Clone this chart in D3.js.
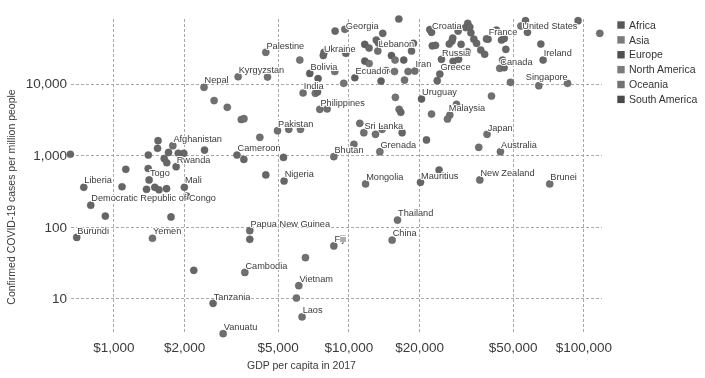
<!DOCTYPE html>
<html><head><meta charset="utf-8">
<script src="https://cdn.jsdelivr.net/npm/d3@7"></script>
<style>
body{margin:0;background:#fff}
svg{display:block;font-family:"Liberation Sans",Arial,sans-serif;filter:grayscale(1)}
</style>
</head><body>
<svg id="chart" width="705" height="378"></svg>
<script>
// ---------- data ----------
const names = [
 "Nepal","Afghanistan","Rwanda","Togo","Liberia","Mali","Democratic Republic of Congo","Burundi","Yemen","Tanzania",
 "Vanuatu","Kyrgyzstan","Palestine","Cameroon","Nigeria","Pakistan","Bolivia","India","Philippines","Ukraine",
 "Georgia","Ecuador","Lebanon","Iran","Uruguay","Sri Lanka","Bhutan","Grenada","Mongolia","Mauritius",
 "Croatia","Russia","Greece","France","United States","Ireland","Canada","Singapore","Malaysia","Japan",
 "Australia","New Zealand","Brunei","Thailand","China","Papua New Guinea","Fiji","Cambodia","Vietnam","Laos"
];
const continents = [
 "AS","AS","AF","AF","AF","AF","AF","AF","AS","AF",
 "OC","AS","AS","AF","AF","AS","SA","AS","AS","EU",
 "AS","SA","AS","AS","SA","AS","AS","NA","AS","AF",
 "EU","EU","EU","EU","NA","EU","NA","AS","AS","AS",
 "OC","OC","AS","AS","AS","OC","OC","AS","AS","AS",
 // unlabeled countries
 "AF","AF","AF","AF","AF","AF","AF","AF","AF","AF",
 "AF","AF","AF","AF","AF","AF","AF","AF","AF","AF",
 "AF","AS","AS","AS","AS","AS","AF","AF","AF","AS",
 "NA","AS","NA","SA","NA","NA","AF","AS","NA","EU",
 "EU","EU","EU","EU","SA","EU","EU","EU","SA","NA",
 "SA","EU","EU","SA","NA","SA","NA","NA","AS","AS",
 "NA","AS","AF","AS","AF","AS","AS","NA","AF","AS",
 "AF","AS","AS","AS","AS","AS","AS","AS","EU","EU",
 "EU","EU","EU","EU","EU","EU","EU","EU","EU","EU",
 "EU","EU","EU","EU","EU","EU","EU","EU","EU","EU",
 "EU","EU","EU","EU","EU","EU","EU","EU","EU","EU",
 "AS","AS","AS"
];
// GDP per capita in 2017 (int-$)
const gdp = [
 2430,1790,1849,1406,748,2004,801,698,1466,2656,
 2931,3395,4452,3357,5325,4993,6850,6415,7556,7820,
 9660,10650,13340,19170,20470,11630,8670,13610,11830,20270,
 22580,24890,24490,39300,54200,67400,44060,85600,27010,38900,
 44360,36240,71900,16180,15350,3805,8670,3625,6150,6350,
 656,1549,1541,1408,1716,1645,1687,1888,1993,2442,
 1129,1419,1088,1383,1500,1563,1683,924,1758,2052,
 2198,2683,3052,3501,3594,4198,3590,4452,5294,5575,
 6253,4527,6211,7430,8750,7230,7390,8120,9550,8780,
 7880,9750,16390,14000,11740,12250,13140,13430,15250,15800,
 17200,18560,18920,11740,12250,13770,14490,15710,17330,17950,
 15850,16440,16710,22580,21490,11180,13040,13910,16930,10550,
 24320,28840,26400,40640,35870,48950,64600,117450,94940,56700,
 57800,65900,45300,46000,46770,44830,46060,42660,38700,22200,
 31500,32200,32860,33200,34180,35100,36580,38000,29300,27800,
 27600,26870,30170,22750,23480,27900,29440,32060,23880,3805,
 6565,6010
];
// Confirmed COVID-19 cases per million people
const cases = [
 8890,1356,690,651,356,356,200,71,69,8.5,
 3.2,12470,27400,1006,436,2198,13900,7400,4378,24700,
 57400,12080,28560,15000,6090,2060,953,1118,396,418,
 52100,21830,13600,41700,63800,21340,16370,10100,3640,1957,
 1118,451,396,124,65,88,54,23,15,5.5,
 1030,1595,1247,1006,1091,899,784,1064,1064,1180,
 635,451,362,334,356,329,340,141,137,269,
 24.6,5805,4667,3152,3234,1778,871,529,929,2298,
 2298,12350,21340,11770,14760,7330,7640,4422,10100,54300,
 27400,26500,80000,50400,35400,31400,40700,36900,24700,21340,
 21340,28560,36600,20660,19100,10870,15250,14760,11220,14760,
 6430,4378,3970,3755,1632,2784,1958,2298,2060,1421,
 621,5140,3204,6710,1288,10430,9360,50400,75700,75700,
 52100,35700,21340,16680,30130,40700,42760,56100,42070,57000,
 60800,69600,61800,51400,41800,36560,29500,25700,54300,43400,
 39400,35700,35400,33800,34300,20470,21830,27900,10980,66.8,
 37,10.1
];
const xTicks = [1000,2000,5000,10000,20000,50000,100000];
const xTickLabels = ["$1,000","$2,000","$5,000","$10,000","$20,000","$50,000","$100,000"];
const yTicks = [10,100,1000,10000];
const yTickLabels = ["10","100","1,000","10,000"];
const legendCodes = ["AF","AS","EU","NA","OC","SA"];
const legendNames = ["Africa","Asia","Europe","North America","Oceania","South America"];
const xTitle = "GDP per capita in 2017";
const yTitle = "Confirmed COVID-19 cases per million people";

// ---------- styling ----------
const colors = {AF:"#666666",AS:"#707070",EU:"#676767",NA:"#747474",OC:"#6e6e6e",SA:"#5e5e5e"};
const legendColors = {AF:"#585858",AS:"#7a7a7a",EU:"#505050",NA:"#7c7c7c",OC:"#727272",SA:"#4a4a4a"};
const labelDefault = [0.6,-7];
const labelOffsets = {"Togo":[1.7,4.5],"Georgia":[1,-3.6],"United States":[1.4,-0.3],"Singapore":[-41.7,-6.6],"Malaysia":[-1,-7]};

const svg = d3.select("#chart");
const x = d3.scaleLog().domain([660,120000]).range([71,602]);
const y = d3.scaleLog().domain([3.17,80000]).range([334,19]);

// grid
const grid = svg.append("g").attr("stroke","#a8a8a8").attr("stroke-width",1).attr("stroke-dasharray","3,2");
grid.selectAll("line.v").data(xTicks).join("line")
  .attr("x1",d=>Math.round(x(d))+0.5).attr("x2",d=>Math.round(x(d))+0.5).attr("y1",19).attr("y2",334);
grid.selectAll("line.h").data(yTicks).join("line")
  .attr("y1",d=>Math.round(y(d))+0.5).attr("y2",d=>Math.round(y(d))+0.5).attr("x1",71).attr("x2",602);

// axes
const xAxis = d3.axisBottom(x).tickValues(xTicks).tickFormat((d,i)=>xTickLabels[i]).tickSize(0).tickPadding(0);
const gx = svg.append("g").attr("transform","translate(0,342)").call(xAxis);
gx.select(".domain").remove();
gx.selectAll("text").attr("font-size",13.5).attr("fill","#3a3a3a").attr("dy","0.71em")
  .style("font-family","'Liberation Sans',Arial,sans-serif");
const yAxis = d3.axisLeft(y).tickValues(yTicks).tickFormat((d,i)=>yTickLabels[i]).tickSize(0).tickPadding(0);
const gy = svg.append("g").attr("transform","translate(67,0)").call(yAxis);
gy.select(".domain").remove();
gy.selectAll("text").attr("font-size",13.5).attr("fill","#3a3a3a")
  .style("font-family","'Liberation Sans',Arial,sans-serif");

// axis titles
svg.append("text").attr("x",247).attr("y",369).attr("font-size",10.5).attr("fill","#3a3a3a").text(xTitle);
svg.append("text").attr("transform","translate(14.5,197) rotate(-90)").attr("text-anchor","middle")
  .attr("font-size",10.5).attr("fill","#3a3a3a").text(yTitle);

// points
const pts = gdp.map((g,i)=>({name:names[i]||"",cont:continents[i],gdp:g,cases:cases[i]}));
svg.append("g").selectAll("circle").data(pts).join("circle")
  .attr("cx",d=>x(d.gdp)).attr("cy",d=>y(d.cases)).attr("r",3.6)
  .attr("fill",d=>colors[d.cont]).attr("stroke","#5a5a5a").attr("stroke-width",0.4);

// labels
svg.append("g").selectAll("text").data(pts.filter(d=>d.name)).join("text")
  .attr("x",d=>x(d.gdp)+(labelOffsets[d.name]||labelDefault)[0])
  .attr("y",d=>y(d.cases)+(labelOffsets[d.name]||labelDefault)[1])
  .attr("dy","0.35em")
  .attr("font-size",9.2).attr("fill","#3a3a3a")
  .attr("stroke","#fff").attr("stroke-width",2.2).attr("stroke-linejoin","round")
  .style("paint-order","stroke")
  .text(d=>d.name);

// legend
const lg = svg.append("g");
legendCodes.forEach((c,i)=>{
  const cy = 25 + i*14.88;
  lg.append("rect").attr("x",617.3).attr("y",cy-3.7).attr("width",7.4).attr("height",7.4).attr("fill",legendColors[c]);
  lg.append("text").attr("x",629).attr("y",cy).attr("dy","0.35em").attr("font-size",10.5).attr("fill","#333").text(legendNames[i]);
});
</script>
</body></html>
